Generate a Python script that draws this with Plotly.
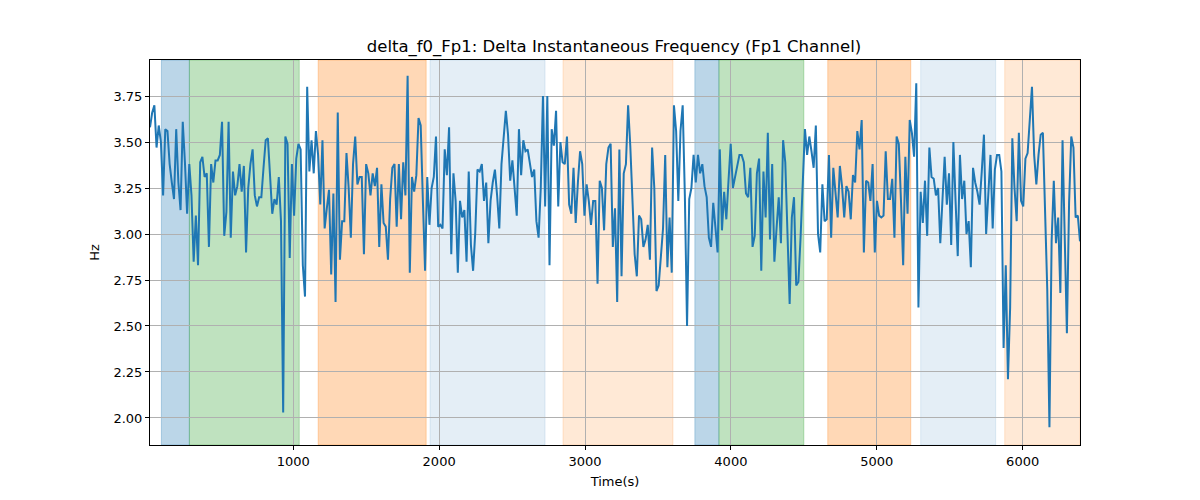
import numpy as np
import plotly.graph_objects as go

# Series values (Hz), uniformly sampled in time between t_start and t_end
values = [
    # segment 1
    3.58, 3.66, 3.70, 3.47, 3.59, 3.50, 3.21, 3.57, 3.56, 3.38, 3.28, 3.19, 3.57, 3.28, 3.13, 3.61,
    3.39, 3.11, 3.38, 3.21, 2.85, 3.10, 2.83, 3.39, 3.42, 3.31, 3.33, 2.93, 3.38, 3.28, 3.40, 3.40,
    3.43, 3.61, 2.99, 3.12, 3.61, 2.98, 3.34, 3.21, 3.26, 3.38, 3.23, 3.37, 2.90, 3.25, 3.38, 3.46,
    3.21, 3.15, 3.20, 3.20, 3.36, 3.51, 3.52, 3.30,
    # segment 2
    3.11, 3.19, 3.16, 3.31, 3.07, 2.03, 3.53, 3.49, 2.87, 3.38, 3.10, 3.41, 3.49, 3.46, 2.83, 2.66,
    3.80, 3.34, 3.51, 3.33, 3.56, 3.43, 3.16, 3.51, 3.03, 3.14, 3.24, 2.78, 3.22, 2.63, 3.66, 2.86,
    3.07, 3.07, 3.44, 3.25, 2.98, 3.38, 3.53, 3.27, 3.31, 3.31, 2.89, 3.38, 3.33, 3.21, 3.33, 3.26,
    3.36, 2.93, 3.27, 3.06, 3.04, 2.86, 3.19,
    # segment 3
    3.36, 3.38, 3.04, 3.38, 3.08, 3.39, 3.21, 3.86, 2.79, 3.31, 3.23, 3.32, 3.63, 3.59, 3.18, 2.80,
    3.31, 3.05, 3.25, 3.31, 3.53, 3.04, 3.05, 3.03, 3.46, 3.32, 3.58, 2.89, 3.33, 3.18, 2.79, 3.18,
    3.09, 3.13, 2.85, 3.34, 2.94, 2.80, 3.01, 3.35, 3.34, 3.38, 3.18, 3.28, 2.95, 3.18, 3.28, 3.35,
    3.21, 3.03, 3.38, 3.54, 3.67, 3.54, 3.29,
    # segment 4
    3.40, 3.25, 3.10, 3.57, 3.32, 3.51, 3.45, 3.46, 3.38, 3.31, 3.35, 3.07, 2.98, 3.25, 3.75, 3.15,
    3.75, 2.83, 3.57, 3.48, 3.67, 3.15, 3.50, 3.39, 3.38, 3.53, 3.16, 3.11, 3.36, 3.06, 3.28, 3.45,
    3.38, 3.10, 3.27, 3.18, 3.05, 3.18, 3.18, 2.73, 3.29, 3.25, 3.02, 3.38, 3.47, 3.49, 2.93, 3.14,
    2.63, 3.46, 2.77, 3.33, 3.38, 3.70, 3.48,
    # segment 5
    3.21, 2.89, 2.77, 3.10, 3.08, 2.93, 2.97, 3.05, 2.86, 3.47, 3.25, 2.69, 2.72, 2.89, 3.03, 3.43,
    2.82, 3.09, 2.79, 3.70, 3.56, 3.18, 3.56, 3.70, 3.21, 2.50, 3.19, 3.25, 3.43, 3.28, 3.43, 3.33,
    3.38, 3.26, 3.20, 2.98, 2.93, 3.17, 3.03, 2.90, 3.46, 3.02, 3.23, 3.08, 3.29, 3.49, 3.25, 3.31,
    3.39, 3.43, 3.43, 3.39, 3.22, 3.20, 3.36,
    # segment 6
    2.93, 2.99, 3.33, 3.41, 2.80, 3.34, 3.09, 3.55, 2.97, 3.38, 2.85, 3.03, 3.20, 2.95, 3.51, 3.39,
    3.03, 2.62, 3.09, 3.20, 2.72, 2.74, 2.98, 3.28, 3.57, 3.43, 3.53, 3.45, 3.36, 3.59, 3.00, 2.90,
    3.27, 3.07, 3.08, 3.43, 2.98, 3.36, 3.21, 3.09, 3.37, 3.26, 3.09, 3.26, 3.23, 3.08, 3.32, 3.28,
    3.56, 3.46, 3.62, 2.90, 3.29, 3.28, 3.18,
    # segment 7
    3.38, 2.90, 3.18, 3.10, 3.09, 3.10, 3.45, 3.19, 3.19, 3.30, 2.98, 3.53, 3.49, 3.18, 2.83, 3.42,
    3.11, 3.62, 3.55, 3.42, 3.82, 2.60, 3.23, 3.06, 3.29, 2.99, 3.47, 3.31, 3.30, 3.21, 3.25, 2.95,
    3.17, 3.42, 3.16, 3.33, 2.94, 3.50, 3.18, 2.88, 3.43, 3.19, 3.29, 3.00, 3.07, 2.82, 3.36, 3.28,
    3.23, 3.16, 3.34, 3.54, 3.00, 3.21, 3.43,
    # segment 8
    3.03, 3.35, 3.43, 3.43, 3.34, 2.38, 2.83, 2.21, 2.60, 3.52, 3.25, 3.07, 3.55, 3.18, 3.15, 3.41,
    3.44, 3.61, 3.80, 3.43, 3.27, 3.43, 3.54, 3.55, 3.18, 2.70, 1.95, 2.96, 3.29, 2.95, 3.09, 2.68,
    3.51, 3.05, 2.46, 3.17, 3.53, 3.47, 3.09, 3.10, 2.96,
]
t_start = 18.0
t_end = 6393.0
time_s = np.linspace(t_start, t_end, len(values))

# Shaded segments
span_starts = [96, 288, 1171, 1938, 2849, 3753, 3918, 4664, 5301, 5877]
span_ends = [288, 1041, 1911, 2726, 3603, 3918, 4500, 5233, 5815, 6393]
span_colors = [
    "rgba(31,119,180,0.30)", "rgba(44,160,44,0.30)", "rgba(255,127,14,0.30)",
    "rgba(31,119,180,0.12)", "rgba(255,127,14,0.17)",
    "rgba(31,119,180,0.30)", "rgba(44,160,44,0.30)", "rgba(255,127,14,0.30)",
    "rgba(31,119,180,0.12)", "rgba(255,127,14,0.17)",
]

y_ticks = [2.00, 2.25, 2.50, 2.75, 3.00, 3.25, 3.50, 3.75]
x_ticks = [1000, 2000, 3000, 4000, 5000, 6000]

fig = go.Figure()
fig.add_trace(go.Scatter(
    x=time_s, y=values, mode="lines",
    line=dict(color="#1f77b4", width=2),
    showlegend=False,
))

shapes = []
for s, e, c in zip(span_starts, span_ends, span_colors):
    shapes.append(dict(type="rect", xref="x", yref="paper", x0=s, x1=e, y0=0, y1=1,
                       fillcolor=c, line=dict(width=1, color=c), layer="below"))

font = "DejaVu Sans, Liberation Sans, sans-serif"
fig.update_layout(
    width=1200, height=500,
    margin=dict(l=142, r=128, t=52, b=63),
    plot_bgcolor="rgba(0,0,0,0)", paper_bgcolor="white",
    font=dict(family=font, size=13, color="black"),
    shapes=shapes,
    title=dict(text="delta_f0_Fp1: Delta Instantaneous Frequency (Fp1 Channel)",
               x=0.505, xanchor="center", y=0.924, yanchor="middle",
               font=dict(size=16.5, family=font, color="black")),
)
fig.update_xaxes(
    range=[t_start, t_end], tickvals=x_ticks, ticktext=[str(v) for v in x_ticks],
    showgrid=True, gridcolor="#b0b0b0", gridwidth=1,
    showline=True, linecolor="black", linewidth=1, mirror=True,
    ticks="outside", ticklen=4, tickcolor="black", zeroline=False,
    title=dict(text="Time(s)", font=dict(size=13), standoff=9),
)
fig.update_yaxes(
    range=[1.853, 3.946], tickvals=y_ticks, ticktext=[f"{v:.2f}" for v in y_ticks],
    showgrid=True, gridcolor="#b0b0b0", gridwidth=1,
    showline=True, linecolor="black", linewidth=1, mirror=True,
    ticks="outside", ticklen=4, tickcolor="black", zeroline=False,
    title=dict(text="Hz", font=dict(size=13), standoff=10),
)

fig.write_html("out.html")
